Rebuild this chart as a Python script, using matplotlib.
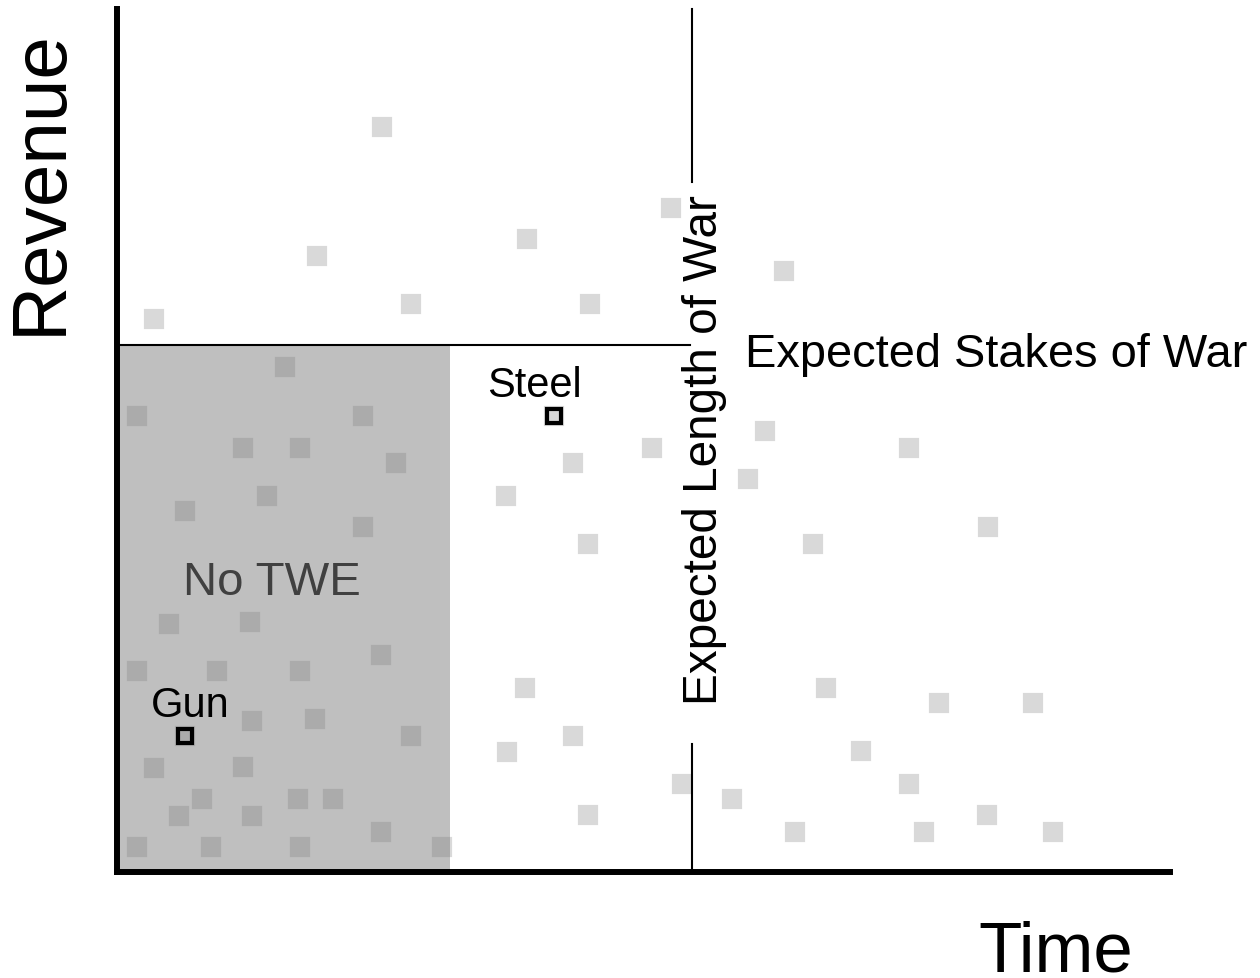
import matplotlib
matplotlib.use("Agg")
import matplotlib.pyplot as plt
from matplotlib.patches import Rectangle

plt.rcParams['font.family'] = ['Liberation Sans', 'DejaVu Sans']

# ---- data (time 0-100, revenue 0-100) ----
point_time = [25.2, 19.0, 27.9, 38.9, 44.9, 52.6, 63.3, 3.5,
              16.0, 1.9, 23.4, 12.0, 17.4, 26.5, 14.2, 6.5, 23.4,
              4.9, 12.6, 25.1, 1.9, 9.5, 17.4, 12.8, 18.8, 27.9,
              3.5, 12.0, 8.1, 17.2, 20.5, 5.9, 12.8, 25.1, 1.9, 8.9, 17.4, 30.9,
              50.8, 43.3, 36.9, 44.7, 38.7, 43.3, 37.0, 53.7, 44.7,
              61.5, 75.2, 59.9, 82.7, 66.1, 67.3, 78.1, 87.0, 70.7,
              75.2, 58.4, 82.6, 64.4, 76.6, 88.9,
              6.5, 41.5]
point_revenue = [86.3, 71.4, 65.8, 73.3, 65.8, 76.9, 69.6, 64.1,
                 58.5, 52.8, 52.8, 49.1, 49.1, 47.4, 43.6, 41.8, 40.0,
                 28.7, 29.0, 25.1, 23.3, 23.3, 23.3, 17.5, 17.7, 15.8,
                 12.1, 12.2, 8.5, 8.5, 8.5, 6.5, 6.5, 4.6, 2.9, 2.9, 2.9, 2.9,
                 49.1, 47.4, 43.6, 38.0, 21.3, 15.8, 13.9, 10.2, 6.6,
                 51.1, 49.1, 45.5, 40.0, 38.0, 21.3, 19.6, 19.6, 14.0,
                 10.2, 8.5, 6.6, 4.6, 4.6, 4.6,
                 15.8, 52.8]

highlight_names = ["Gun", "Steel"]
highlight_time = [6.5, 41.5]
highlight_revenue = [15.8, 52.8]
highlight_label_time = [3.2, 35.1]
highlight_label_revenue = [18.1, 55.2]

stakes_of_war = 61.1        # revenue level of the horizontal line
length_of_war = 54.6        # time of the vertical line
twe_threshold = 31.6        # right edge of the "No TWE" region
length_line_top = (79.9, 100.0)
length_line_bottom = (0.0, 14.8)

# ---- figure ----
fig = plt.figure(figsize=(12.6, 9.79), dpi=100)
ax = fig.add_axes([117 / 1260, (979 - 873) / 979, 1053 / 1260, 863 / 979])
ax.set_xlim(0, 100)
ax.set_ylim(0, 100)
ax.set_xticks([])
ax.set_yticks([])
for s in ['top', 'right']:
    ax.spines[s].set_visible(False)
for s in ['left', 'bottom']:
    ax.spines[s].set_linewidth(4.3)
    ax.spines[s].set_color('black')
    ax.spines[s].set_capstyle('projecting')
    ax.spines[s].set_zorder(10)

# scatter of all products
ax.plot(point_time, point_revenue, linestyle='none', marker='s', ms=11,
        mfc='#d9d9d9', mec='#d9d9d9', mew=3, zorder=2)

# No TWE region (semi-transparent overlay)
ax.add_patch(Rectangle((0, 0), twe_threshold, stakes_of_war,
                       facecolor='#787878', alpha=0.474, edgecolor='none', zorder=3))

# highlighted products
ax.plot(highlight_time, highlight_revenue, linestyle='none', marker='s', ms=10,
        mfc='none', mec='black', mew=3, zorder=5)
for name, tx, ty in zip(highlight_names, highlight_label_time, highlight_label_revenue):
    ax.text(tx, ty, name, fontsize=30, ha='left', va='baseline', color='black', zorder=6)

# reference lines
ax.plot([0, length_of_war - 0.2], [stakes_of_war, stakes_of_war], color='black', lw=1.5, zorder=4)
ax.plot([length_of_war, length_of_war], list(length_line_top), color='black', lw=1.5, zorder=4,
        clip_on=False)
ax.plot([length_of_war, length_of_war], list(length_line_bottom), color='black', lw=1.5, zorder=4)

# annotations
ax.text(6.3, 32.2, "No TWE", fontsize=34, color='#404040', ha='left', va='baseline', zorder=6)
ax.text(59.6, 58.6, "Expected Stakes of War", fontsize=33.8, color='black',
        ha='left', va='baseline')
ax.text(57.0, 19.5, "Expected Length of War", fontsize=34.4, color='black',
        rotation=90, rotation_mode='anchor', ha='left', va='baseline')

# axis titles
ax.text(-5.3, 62.3, "Revenue", fontsize=55, color='black',
        rotation=90, rotation_mode='anchor', ha='left', va='baseline', clip_on=False)
ax.text(81.8, -11.4, "Time", fontsize=51, color='black', ha='left', va='baseline',
        clip_on=False)

fig.savefig("out.png", dpi=100)
